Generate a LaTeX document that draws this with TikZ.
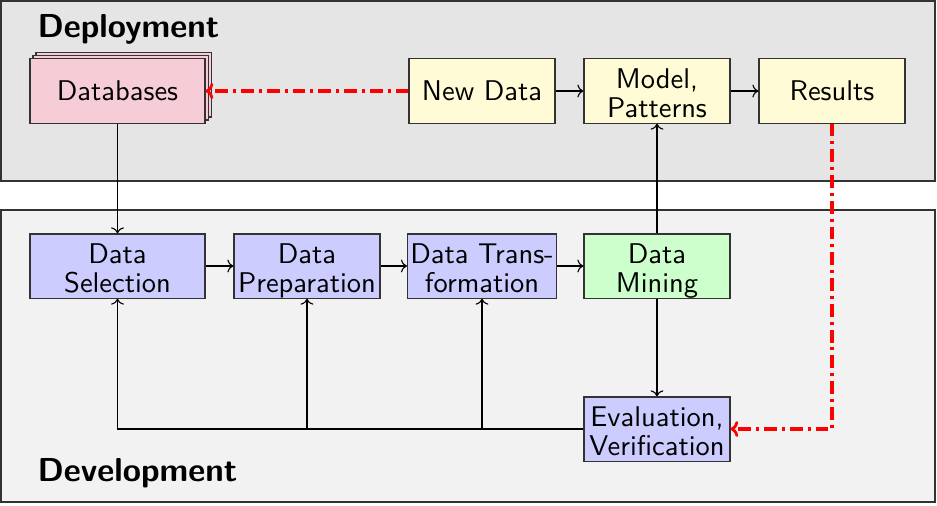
\documentclass[tikz,border=0pt]{standalone}
\usetikzlibrary{shadows,arrows.meta}

\definecolor{boxgray}{RGB}{51,51,51}
\definecolor{deploygray}{RGB}{229,229,229}
\definecolor{developgray}{RGB}{242,242,242}
\definecolor{dbpink}{RGB}{246,204,214}
\definecolor{resultyellow}{RGB}{255,251,214}
\definecolor{stageblue}{RGB}{204,204,255}
\definecolor{mininggreen}{RGB}{204,255,204}
\definecolor{flowred}{RGB}{255,0,0}

\tikzset{
  box/.style={draw=boxgray, line width=0.4pt, minimum width=53.3pt, minimum height=23.4pt,
    inner sep=1pt, align=center, font=\sffamily\fontsize{10.4}{10.5}\selectfont},
  twoline/.style={text height=19.35pt, text depth=0pt},
  stage/.style={box, fill=stageblue},
  outcome/.style={box, fill=resultyellow},
  panel/.style={draw=boxgray, line width=0.55pt},
  heading/.style={anchor=base west, inner sep=0pt, font=\sffamily\bfseries\fontsize{12.1}{14}\selectfont},
  flow/.style={-{To[length=2.2pt, width=4.7pt]}, black, line width=0.4pt},
  feedback/.style={-{To[length=2.8pt, width=5.8pt, line width=1pt]}, flowred, line width=1.3pt,
    dash pattern=on 4.7pt off 1.8pt on 1.1pt off 1.8pt}
}

\begin{document}
\begin{tikzpicture}[x=0.365pt, y=-0.365pt]
  \useasboundingbox (0,0) rectangle (937,505);

  % panels
  \draw[panel, fill=deploygray] (1,1) rectangle (935,181);
  \draw[panel, fill=developgray] (1,210) rectangle (935,502);
  \node[heading] (deployment) at (37,37.3) {Deployment};
  \node[heading] (development) at (37,481) {Development};

  % deployment row
  \node[box, fill=dbpink, minimum width=63.9pt,
    double copy shadow={shadow xshift=1.1pt, shadow yshift=1.1pt, fill=dbpink, draw=boxgray}]
    (databases) at (117.5,91) {Databases};
  \node[outcome] (newdata) at (482,91) {New Data};
  \node[outcome, twoline] (model) at (657,91) {Model,\\Patterns};
  \node[outcome] (results) at (832,91) {Results};

  % development row
  \node[stage, twoline, minimum width=63.9pt] (selection) at (117.5,266) {Data\\Selection};
  \node[stage, twoline] (preparation) at (307,266) {Data\\Preparation};
  \node[stage, twoline] (transformation) at (482,266) {Data Trans-\\formation};
  \node[box, twoline, fill=mininggreen] (mining) at (657,266) {Data\\Mining};
  \node[stage, twoline] (evaluation) at (657,429) {Evaluation,\\Verification};

  \draw[flow] (newdata) -- (model);
  \draw[flow] (model) -- (results);
  \draw[flow] (databases) -- (selection);
  \draw[flow] (selection) -- (preparation);
  \draw[flow] (preparation) -- (transformation);
  \draw[flow] (transformation) -- (mining);
  \draw[flow] (mining) -- (model);
  \draw[flow] (mining) -- (evaluation);
  \draw[flow] (evaluation.west) -| (selection.south);
  \draw[flow] (evaluation.west) -| (preparation.south);
  \draw[flow] (evaluation.west) -| (transformation.south);

  \draw[feedback] (newdata) -- (databases);
  \draw[feedback] (results) |- (evaluation);
\end{tikzpicture}
\end{document}
